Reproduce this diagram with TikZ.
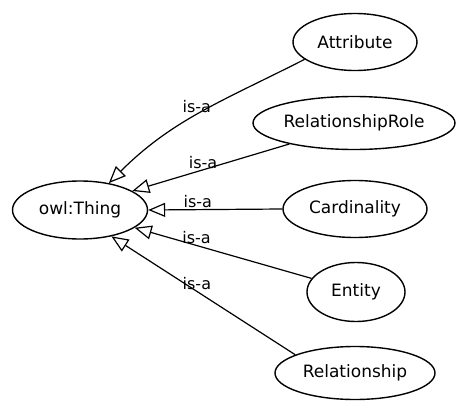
\documentclass[tikz,border=0pt]{standalone}
\usepackage{fontspec}
\setmainfont{DejaVu Sans}
\usetikzlibrary{arrows.meta,shapes.geometric}
\begin{document}
\begin{tikzpicture}[x=1pt,y=1pt,
  cls/.style={ellipse,draw,line width=1.4pt,inner sep=0pt,font=\fontsize{17}{20}\selectfont},
  isa/.style={draw,line width=1.2pt,-{Triangle[open,length=17pt,width=14pt,line width=1.2pt]}},
  lbl/.style={font=\fontsize{16}{18}\selectfont,inner sep=1pt,anchor=south}]
\useasboundingbox (0,0) rectangle (456,-402);

% classes
\node[cls,minimum width=135pt,minimum height=58pt] (thing) at (80,-210) {owl:Thing};
\node[cls,minimum width=124pt,minimum height=57pt] (attr) at (355,-42) {Attribute};
\node[cls,minimum width=202pt,minimum height=53pt] (rrole) at (354,-123) {RelationshipRole};
\node[cls,minimum width=144pt,minimum height=57pt] (card) at (355,-209) {Cardinality};
\node[cls,minimum width=98pt,minimum height=59pt] (ent) at (356,-292) {Entity};
\node[cls,minimum width=160pt,minimum height=53pt] (rel) at (355,-373) {Relationship};

% subclass links
\draw[isa] (attr.199) to[out=207,in=45] node[lbl,pos=0.52] {is-a} (thing.43);
\draw[isa] (rrole.198) -- node[lbl,pos=0.55] {is-a} (thing.20);
\draw[isa] (card.180) -- node[lbl,pos=0.63] {is-a} (thing.0);
\draw[isa] (ent.163) -- node[lbl,pos=0.65] {is-a} (thing.-18);
\draw[isa] (rel.163) -- node[lbl,pos=0.535] {is-a} (thing.-40);
\end{tikzpicture}
\end{document}
